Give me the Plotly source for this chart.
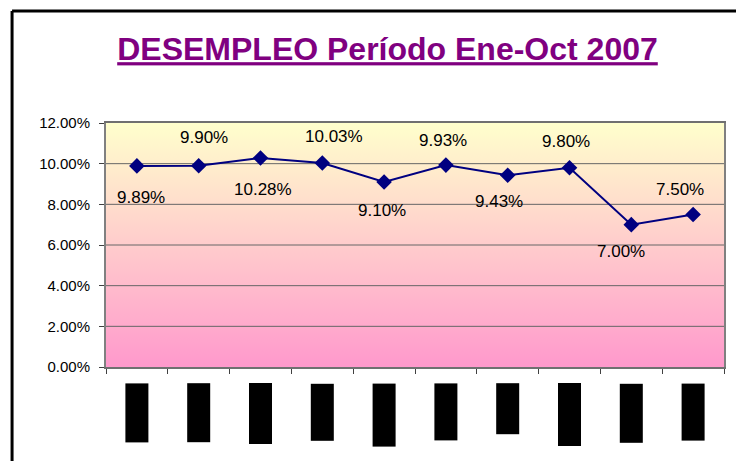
import plotly.graph_objects as go

# =========================
# DATOS
# =========================
meses = ["Ene", "Feb", "Mar", "Abr", "May", "Jun", "Jul", "Ago", "Sep", "Oct"]
desempleo = [9.89, 9.90, 10.28, 10.03, 9.10, 9.93, 9.43, 9.80, 7.00, 7.50]
y_ticks = [0, 2, 4, 6, 8, 10, 12]
titulo = "DESEMPLEO Período Ene-Oct 2007"

# =========================
# ESTILO
# =========================
# desplazamiento de etiquetas (px) y largo de las cajas negras del eje x
lab_dx = [4, 5, 2, 12, -2, -3, -9, -4, -10, -13]
lab_dy = [-32, 28, -32, 27, -29, 25, -26, 26, -27, 25]
box_len = [58, 58, 60, 56, 62, 56, 50, 62, 58, 56]

n = len(meses)
idx = list(range(n))
FONT = "Liberation Sans, Arial, sans-serif"

# la pagina html tiene 8px de margen en el body -> figura 8px mas chica
W, H = 736, 453

fig = go.Figure()

# fondo degradado del area de trazado
fig.add_trace(go.Scatter(
    x=[-0.5, n - 0.5, n - 0.5, -0.5],
    y=[y_ticks[0], y_ticks[0], y_ticks[-1], y_ticks[-1]],
    mode="lines", fill="toself",
    fillgradient=dict(type="vertical",
                      colorscale=[[0, "#FF99CC"], [1, "#FFFFCC"]]),
    line=dict(width=0), hoverinfo="skip", showlegend=False,
))

# lineas de cuadricula
gx, gy = [], []
for t in y_ticks[1:-1]:
    gx += [-0.5, n - 0.5, None]
    gy += [t, t, None]
fig.add_trace(go.Scatter(
    x=gx, y=gy, mode="lines",
    line=dict(color="#666666", width=1),
    hoverinfo="skip", showlegend=False,
))

# serie
fig.add_trace(go.Scatter(
    x=idx, y=desempleo, mode="lines+markers",
    line=dict(color="#000080", width=2),
    marker=dict(symbol="diamond", size=12, color="#000080"),
    showlegend=False,
))

annotations = []
for i, v in enumerate(desempleo):
    annotations.append(dict(
        x=i, y=v, xref="x", yref="y", text=f"{v:.2f}%", showarrow=False,
        xshift=lab_dx[i], yshift=lab_dy[i],
        font=dict(family=FONT, size=17, color="black"),
    ))
    # etiquetas del eje x (se ven como bloques negros)
    annotations.append(dict(
        x=i, y=0, xref="x", yref="y", text=meses[i], showarrow=False,
        textangle=-90, width=box_len[i], height=22, borderpad=0,
        bgcolor="black", font=dict(family=FONT, size=12, color="black"),
        xanchor="center", yanchor="top", yshift=-16,
    ))

# marco del grafico (solo lados izquierdo y superior quedan visibles)
marco = dict(color="black", width=3)
shapes = [
    dict(type="line", xref="paper", yref="paper",
         x0=-0.152, x1=-0.152, y0=-0.5, y1=1.459, line=marco),
    dict(type="line", xref="paper", yref="paper",
         x0=-0.152, x1=1.2, y0=1.459, y1=1.459, line=marco),
]

fig.update_layout(
    width=W, height=H,
    margin=dict(l=98, r=20, t=115, b=94),
    paper_bgcolor="white", plot_bgcolor="white",
    title=dict(
        text=titulo, x=0.4555, xanchor="center", xref="paper",
        y=1 - 41 / H, yanchor="middle", yref="container",
        font=dict(family=FONT, size=32, color="#800080",
                  weight="bold", lineposition="under"),
    ),
    annotations=annotations,
    shapes=shapes,
)

fig.update_xaxes(
    range=[-0.5, n - 0.5], tickvals=[i - 0.5 for i in range(n + 1)],
    showticklabels=False, ticks="outside", ticklen=5, tickcolor="#404040",
    showgrid=False, zeroline=False,
    showline=True, linecolor="#707070", linewidth=2, mirror=True,
)
fig.update_yaxes(
    range=[y_ticks[0], y_ticks[-1]], tickvals=y_ticks,
    ticktext=[f"{t:.2f}%" for t in y_ticks],
    ticks="outside", ticklen=5, tickcolor="#404040", ticklabelstandoff=6,
    tickfont=dict(family=FONT, size=15, color="black"),
    showgrid=False, zeroline=False,
    showline=True, linecolor="#808080", linewidth=2, mirror=True,
)

fig.write_html("out.html")
